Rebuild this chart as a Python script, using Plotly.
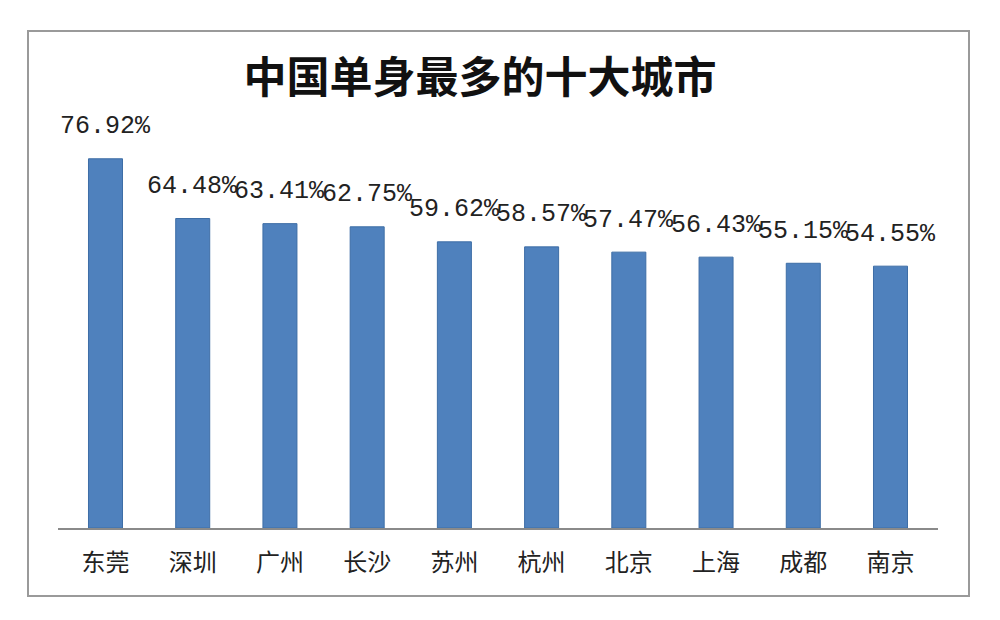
import plotly.graph_objects as go

cities = ["东莞", "深圳", "广州", "长沙", "苏州", "杭州", "北京", "上海", "成都", "南京"]
values = [76.92, 64.48, 63.41, 62.75, 59.62, 58.57, 57.47, 56.43, 55.15, 54.55]
labels = [f"{v:.2f}%" for v in values]
title_text = "中国单身最多的十大城市"

OFF = 8  # page body margin offset
W, H = 1000 - OFF, 620 - OFF
ml, mr, mt, mb = 58 - OFF, 62, 96 - OFF, 92

fig = go.Figure()
fig.add_trace(go.Bar(
    x=cities, y=values,
    marker=dict(color="#4F81BD", line=dict(color="#3E6EA6", width=1)),
    width=0.39, hoverinfo="skip",
))

for c, v, t in zip(cities, values, labels):
    fig.add_annotation(x=c, y=v, text=t, showarrow=False, yshift=32,
                       font=dict(family="Liberation Mono, DejaVu Sans Mono, monospace",
                                 size=25, color="#222222"))

def px2paper_x(px):
    return (px - OFF - ml) / (W - ml - mr)

def px2paper_y(py):
    return (H - mb - (py - OFF)) / (H - mt - mb)

fig.add_shape(type="rect", xref="paper", yref="paper",
              x0=px2paper_x(28), x1=px2paper_x(969),
              y0=px2paper_y(596), y1=px2paper_y(31),
              line=dict(color="#9a9a9a", width=2), fillcolor="rgba(0,0,0,0)", layer="below")

fig.update_layout(
    width=W, height=H,
    margin=dict(l=ml, r=mr, t=mt, b=mb),
    paper_bgcolor="white", plot_bgcolor="white",
    showlegend=False,
    title=dict(text=title_text, x=(480 - OFF) / W, xanchor="center",
               y=1 - (78 - OFF) / H, yanchor="middle", yref="container",
               font=dict(family="Noto Sans CJK SC", size=43, color="#111111", weight="bold")),
    xaxis=dict(showline=True, linecolor="#8a8a8a", linewidth=1.5, ticks="",
               showgrid=False, ticklabelstandoff=12,
               tickfont=dict(family="Noto Sans CJK SC", size=24, color="#222222")),
    yaxis=dict(range=[0, 90], visible=False, showgrid=False),
)

fig.write_html("out.html")
